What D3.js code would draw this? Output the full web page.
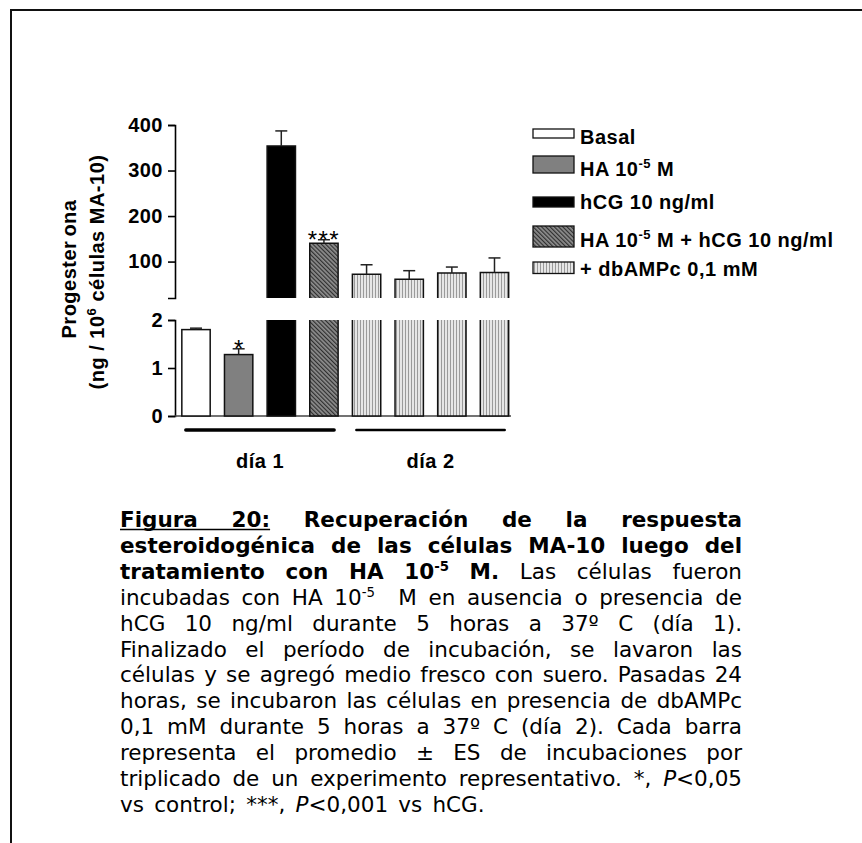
<!DOCTYPE html>
<html>
<head>
<meta charset="utf-8">
<script src="https://cdn.jsdelivr.net/npm/d3@7"></script>
<style>
  html, body { margin: 0; padding: 0; background: #fff; }
  svg { display: block; }
  .ax path, .ax line { stroke: #000; stroke-width: 1.6; }
  .ax text { font-family: "Liberation Sans", Arial, sans-serif; font-weight: bold; font-size: 20px; letter-spacing: 0.5px; fill: #000; }
</style>
</head>
<body>
<svg id="chart" width="862" height="843"></svg>
<script>
// Progesterone output (ng / 10^6 MA-10 cells): mean and SE per condition
const barIds     = ["Basal", "HA", "hCG", "HA+hCG", "db-Basal", "db-HA", "db-hCG", "db-HA+hCG"];
const barMeans   = [1.8, 1.28, 354, 140, 72, 61, 75, 76];
const barErrors  = [0.03, 0.12, 33, 8, 21, 19, 13, 32];
const barGroup   = [0, 1, 2, 3, 4, 4, 4, 4];        // legend entry of each bar
const barDay     = [0, 0, 0, 0, 1, 1, 1, 1];        // day block of each bar
const barSignif  = ["", "*", "", "***", "", "", "", ""];
const dayLabels  = ["día 1", "día 2"];
const upperTicks = [100, 200, 300, 400];
const lowerTicks = [0, 1, 2];
// legend labels: even pieces normal, odd pieces superscript
const legendLabels = [
  ["Basal"],
  ["HA 10", "-5", " M"],
  ["hCG 10 ng/ml"],
  ["HA 10", "-5", " M + hCG 10 ng/ml"],
  ["+ dbAMPc 0,1 mM"]
];
// caption lines as [text, style] runs; b = bold, u = underline, s = superscript, i = italic
const captionLines = [
  [["Figura 20:", "bu"], [" Recuperación de la respuesta", "b"]],
  [["esteroidogénica de las células MA-10 luego del", "b"]],
  [["tratamiento con HA 10", "b"], ["-5", "bs"], [" M.", "b"], [" Las células fueron", ""]],
  [["incubadas con HA 10", ""], ["-5", "s"], ["  M en ausencia o presencia de", ""]],
  [["hCG 10 ng/ml durante 5 horas a 37º C (día 1).", ""]],
  [["Finalizado el período de incubación, se lavaron las", ""]],
  [["células y se agregó medio fresco con suero. Pasadas 24", ""]],
  [["horas, se incubaron las células en presencia de dbAMPc", ""]],
  [["0,1 mM durante 5 horas a 37º C (día 2). Cada barra", ""]],
  [["representa el promedio ± ES de incubaciones por", ""]],
  [["triplicado de un experimento representativo. *, ", ""], ["P", "i"], ["<0,05", ""]],
  [["vs control; ***, ", ""], ["P", "i"], ["<0,001 vs hCG.", ""]]
];

const svg = d3.select("#chart");
svg.append("rect").attr("width", 862).attr("height", 843).attr("fill", "#fff");

// page frame (top and left rules)
svg.append("path").attr("d", "M11,843V10H862")
  .attr("fill", "none").attr("stroke", "#111").attr("stroke-width", 2);

// fill patterns
const defs = svg.append("defs");
const hatch = defs.append("pattern").attr("id", "hatch")
  .attr("patternUnits", "userSpaceOnUse").attr("width", 3).attr("height", 3)
  .attr("patternTransform", "rotate(-45)");
hatch.append("rect").attr("width", 3).attr("height", 3).attr("fill", "#8e8e8e");
hatch.append("rect").attr("width", 1.2).attr("height", 3).attr("fill", "#2f2f2f");

const stripes = defs.append("pattern").attr("id", "stripes")
  .attr("patternUnits", "userSpaceOnUse").attr("width", 3).attr("height", 10);
stripes.append("rect").attr("width", 3).attr("height", 10).attr("fill", "#e6e6e6");
stripes.append("rect").attr("width", 1).attr("height", 10).attr("fill", "#9a9a9a");

const groupFill = ["#ffffff", "#808080", "#000000", "url(#hatch)", "url(#stripes)"];

// scales: broken y axis (upper 20–400, lower 0–2)
const x   = d3.scaleBand().domain(barIds).range([176.5, 514]).paddingInner(0.335).paddingOuter(0.125);
const yHi = d3.scaleLinear().domain([20, 400]).range([298, 125]);
const yLo = d3.scaleLinear().domain([0, 2]).range([416, 320]);
const axisX = 175;
const bw = x.bandwidth();

// axes
svg.append("g").attr("class", "ax").attr("transform", `translate(${axisX},0)`)
  .call(d3.axisLeft(yHi).tickValues(upperTicks).tickFormat(d3.format("d"))
    .tickSize(7).tickSizeOuter(7).tickPadding(5));
svg.append("g").attr("class", "ax").attr("transform", `translate(${axisX},0)`)
  .call(d3.axisLeft(yLo).tickValues(lowerTicks).tickFormat(d3.format("d"))
    .tickSize(7).tickSizeOuter(7).tickPadding(5));

// zero baseline
svg.append("line")
  .attr("x1", axisX).attr("x2", x.range()[1] - 3)
  .attr("y1", yLo(0)).attr("y2", yLo(0))
  .attr("stroke", "#444").attr("stroke-width", 1.5);

// bars
const barsG = svg.append("g");
barIds.forEach((id, i) => {
  const v = barMeans[i], e = barErrors[i];
  const x0 = x(id), fill = groupFill[barGroup[i]];
  const lowMax = yLo.domain()[1], hiMin = yHi.domain()[0];
  let scale;
  if (v <= lowMax) {
    scale = yLo;
    barsG.append("rect")
      .attr("x", x0).attr("y", yLo(v)).attr("width", bw).attr("height", yLo(0) - yLo(v))
      .attr("fill", fill).attr("stroke", "#111").attr("stroke-width", 1.5);
  } else {
    scale = yHi;
    // lower segment, cut at the break
    barsG.append("rect")
      .attr("x", x0).attr("y", yLo(lowMax)).attr("width", bw).attr("height", yLo(0) - yLo(lowMax))
      .attr("fill", fill);
    barsG.append("path")
      .attr("d", `M${x0},${yLo(lowMax)}V${yLo(0)}H${x0 + bw}V${yLo(lowMax)}`)
      .attr("fill", "none").attr("stroke", "#111").attr("stroke-width", 1.5);
    // upper segment
    barsG.append("rect")
      .attr("x", x0).attr("y", yHi(v)).attr("width", bw).attr("height", yHi(hiMin) - yHi(v))
      .attr("fill", fill);
    barsG.append("path")
      .attr("d", `M${x0},${yHi(hiMin)}V${yHi(v)}H${x0 + bw}V${yHi(hiMin)}`)
      .attr("fill", "none").attr("stroke", "#111").attr("stroke-width", 1.5);
  }
  // error bar (upper half)
  const cx = x0 + bw / 2;
  const yTop = scale(v + e);
  barsG.append("line").attr("x1", cx).attr("x2", cx).attr("y1", scale(v)).attr("y2", yTop)
    .attr("stroke", "#222").attr("stroke-width", 1.5);
  barsG.append("line").attr("x1", cx - 6).attr("x2", cx + 6).attr("y1", yTop).attr("y2", yTop)
    .attr("stroke", "#222").attr("stroke-width", 1.5);
  // significance marks
  if (barSignif[i]) {
    barsG.append("text")
      .attr("x", cx).attr("y", yTop + 8)
      .attr("text-anchor", "middle")
      .attr("font-family", "'Liberation Sans', Arial, sans-serif")
      .attr("font-size", 24)
      .attr("letter-spacing", barSignif[i].length > 1 ? 1.5 : 0)
      .text(barSignif[i]);
  }
});

// day brackets under the bars
dayLabels.forEach((lab, d) => {
  const idx = barIds.filter((_, i) => barDay[i] === d);
  const xa = x(idx[0]) + 4, xb = x(idx[idx.length - 1]) + bw - 4;
  svg.append("line").attr("x1", xa).attr("x2", xb).attr("y1", 430).attr("y2", 430)
    .attr("stroke", "#000").attr("stroke-width", d === 0 ? 3.5 : 2.5).attr("stroke-linecap", "round");
  svg.append("text").attr("x", (xa + xb) / 2).attr("y", 468)
    .attr("text-anchor", "middle")
    .attr("font-family", "'Liberation Sans', Arial, sans-serif")
    .attr("font-weight", "bold").attr("font-size", 20).attr("letter-spacing", 0.5)
    .text(lab);
});

// y axis title (two rotated lines)
const titleFont = "'Liberation Sans', Arial, sans-serif";
const t1 = svg.append("text").attr("transform", "translate(76,269) rotate(-90)")
  .attr("text-anchor", "middle").attr("font-family", titleFont)
  .attr("font-weight", "bold").attr("font-size", 20).attr("letter-spacing", 0.5);
t1.append("tspan").text("Progester");
t1.append("tspan").attr("dx", 4).text("ona");
const t2 = svg.append("text").attr("transform", "translate(104,272) rotate(-90)")
  .attr("text-anchor", "middle").attr("font-family", titleFont)
  .attr("font-weight", "bold").attr("font-size", 20).attr("letter-spacing", 0.5);
t2.append("tspan").text("(ng / 10");
t2.append("tspan").attr("font-size", 13).attr("dy", -8).text("6");
t2.append("tspan").attr("dy", 8).text(" células MA-10)");

// legend
const legendRows = [
  { y: 129, h: 9,  base: 143.5 },
  { y: 156, h: 17, base: 176 },
  { y: 197, h: 10, base: 209 },
  { y: 226, h: 21, base: 247 },
  { y: 262, h: 11.5, base: 276 }
];
const legG = svg.append("g");
legendLabels.forEach((parts, k) => {
  const r = legendRows[k];
  legG.append("rect").attr("x", 533).attr("y", r.y).attr("width", 41).attr("height", r.h)
    .attr("fill", groupFill[k]).attr("stroke", "#111").attr("stroke-width", 1.3);
  const t = legG.append("text").attr("x", 580).attr("y", r.base)
    .attr("font-family", titleFont).attr("font-weight", "bold")
    .attr("font-size", 20).attr("letter-spacing", 0.5);
  let shift = 0;
  parts.forEach((p, j) => {
    const sup = j % 2 === 1;
    const dy = sup ? -8 : -shift;
    shift = sup ? -8 : 0;
    const ts = t.append("tspan").attr("dy", dy).text(p);
    if (sup) ts.attr("font-size", 13);
  });
});

// caption (justified block)
const capX0 = 120, capX1 = 742, capY0 = 527, capLH = 25.9, capFS = 21.5;
const capG = svg.append("g")
  .attr("font-family", "'DejaVu Sans', Verdana, sans-serif")
  .attr("font-size", capFS).attr("fill", "#000");

captionLines.forEach((runs, li) => {
  const baseY = capY0 + li * capLH;
  const words = [[]];
  runs.forEach(([txt, st]) => {
    txt.split(" ").forEach((piece, k) => {
      if (k > 0) words.push([]);
      if (piece.length) words[words.length - 1].push({ t: piece, st });
    });
  });
  const nodes = words.map(w => {
    const t = capG.append("text").attr("y", baseY);
    let shift = 0;
    w.forEach(run => {
      const ts = t.append("tspan").text(run.t);
      if (run.st.includes("b")) ts.attr("font-weight", "bold");
      if (run.st.includes("i")) ts.attr("font-style", "italic");
      if (run.st.includes("s")) {
        ts.attr("font-size", capFS * 0.62).attr("dy", -8 - shift);
        shift = -8;
      } else if (shift) {
        ts.attr("dy", -shift);
        shift = 0;
      }
    });
    return { node: t, w: t.node().getComputedTextLength(), u: w.some(r => r.st.includes("u")) };
  });
  const total = d3.sum(nodes, n => n.w);
  const last = li === captionLines.length - 1;
  const gap = (!last && nodes.length > 1) ? (capX1 - capX0 - total) / (nodes.length - 1) : capFS * 0.36 + 2.5;
  let cx = capX0;
  let uA = null, uB = null;
  nodes.forEach(n => {
    n.node.attr("x", cx);
    if (n.u) { if (uA === null) uA = cx; uB = cx + n.w; }
    cx += n.w + gap;
  });
  if (uA !== null) {
    capG.append("line").attr("x1", uA).attr("x2", uB)
      .attr("y1", baseY + 2.5).attr("y2", baseY + 2.5)
      .attr("stroke", "#000").attr("stroke-width", 1.5);
  }
});
</script>
</body>
</html>
